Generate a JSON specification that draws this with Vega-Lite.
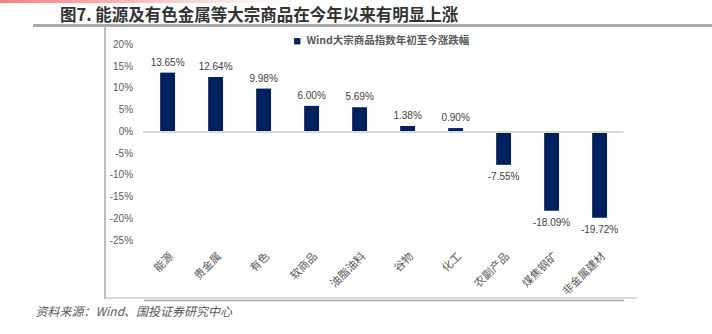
{
  "$schema": "https://vega.github.io/schema/vega-lite/v6.json",
  "width": 679,
  "height": 275,
  "autosize": {"type": "none"},
  "padding": {"left": 33, "top": 25, "right": 0, "bottom": 34},
  "background": "white",
  "title": {
    "text": "图7. 能源及有色金属等大宗商品在今年以来有明显上涨",
    "anchor": "start",
    "frame": "group",
    "dx": 27,
    "offset": 3,
    "dy": 44,
    "baseline": "bottom",
    "font": "Noto Sans CJK SC",
    "fontSize": 16.5,
    "fontWeight": "bold",
    "color": "#333333"
  },
  "datasets": {
    "bars": [
      {"cat": "能源", "v": 0.1365, "series": "Wind大宗商品指数年初至今涨跌幅"},
      {"cat": "贵金属", "v": 0.1264, "series": "Wind大宗商品指数年初至今涨跌幅"},
      {"cat": "有色", "v": 0.0998, "series": "Wind大宗商品指数年初至今涨跌幅"},
      {"cat": "软商品", "v": 0.06, "series": "Wind大宗商品指数年初至今涨跌幅"},
      {"cat": "油脂油料", "v": 0.0569, "series": "Wind大宗商品指数年初至今涨跌幅"},
      {"cat": "谷物", "v": 0.0138, "series": "Wind大宗商品指数年初至今涨跌幅"},
      {"cat": "化工", "v": 0.009, "series": "Wind大宗商品指数年初至今涨跌幅"},
      {"cat": "农副产品", "v": -0.0755, "series": "Wind大宗商品指数年初至今涨跌幅"},
      {"cat": "煤焦钢矿", "v": -0.1809, "series": "Wind大宗商品指数年初至今涨跌幅"},
      {"cat": "非金属建材", "v": -0.1972, "series": "Wind大宗商品指数年初至今涨跌幅"}
    ],
    "ticks": [
      {"t": -0.25}, {"t": -0.2}, {"t": -0.15}, {"t": -0.1}, {"t": -0.05},
      {"t": 0}, {"t": 0.05}, {"t": 0.1}, {"t": 0.15}, {"t": 0.2}
    ]
  },
  "data": {"name": "bars"},
  "layer": [
    {
      "mark": {"type": "bar", "color": "#002060"},
      "encoding": {
        "x": {
          "field": "cat", "type": "nominal", "sort": null,
          "scale": {
            "domain": ["能源", "贵金属", "有色", "软商品", "油脂油料", "谷物", "化工", "农副产品", "煤焦钢矿", "非金属建材"],
            "range": [110.6, 590.6],
            "paddingInner": 0.69, "paddingOuter": 0.345, "align": 0.5
          },
          "axis": {
            "orient": "bottom",
            "domain": true,
            "domainColor": "#a6a6a6",
            "domainWidth": 1.5,
            "ticks": false,
            "tickSize": 0,
            "labelAngle": -45,
            "labelPadding": -50,
            "labelOverlap": false,
            "labelBound": false,
            "labelFont": "Noto Sans CJK SC",
            "labelFontSize": 11,
            "labelColor": "#595959",
            "title": "资料来源：Wind、国投证券研究中心",
            "titleX": 2,
            "titleY": 11,
            "titleAlign": "left",
            "titleAngle": 0,
            "titleBaseline": "middle",
            "titleFont": "Noto Sans CJK SC",
            "titleFontSize": 12,
            "titleFontWeight": "normal",
            "titleFontStyle": "italic",
            "titleColor": "#595959"
          }
        },
        "y": {
          "field": "v", "type": "quantitative",
          "scale": {"domain": [-0.3864, 0.246], "nice": false},
          "axis": null
        },
        "color": {
          "field": "series", "type": "nominal",
          "scale": {"range": ["#002060"]},
          "legend": {
            "orient": "none",
            "legendX": 259,
            "legendY": 11,
            "title": null,
            "symbolType": "square",
            "symbolSize": 40,
            "labelFont": "Noto Sans CJK SC",
            "labelFontSize": 10.5,
            "labelFontWeight": "bold",
            "labelColor": "#595959",
            "labelLimit": 400,
            "padding": 0
          }
        }
      }
    },
    {
      "data": {"name": "ticks"},
      "mark": {"type": "text", "align": "right", "baseline": "middle", "font": "Liberation Sans", "fontSize": 10, "color": "#595959"},
      "encoding": {
        "x": {"datum": "能源", "bandPosition": -1.82},
        "y": {"field": "t", "type": "quantitative"},
        "text": {"field": "t", "type": "quantitative", "format": ".0%"}
      }
    },
    {
      "mark": {"type": "rule", "color": "#d9d9d9", "strokeWidth": 1, "clip": false},
      "encoding": {
        "x": {"datum": "能源", "bandPosition": -1.15},
        "x2": {"datum": "非金属建材", "bandPosition": 2.08},
        "y": {"datum": 0}
      }
    },
    {
      "mark": {"type": "rule", "color": "#d9d9d9", "strokeWidth": 1, "clip": false},
      "encoding": {
        "x": {"datum": "能源", "bandPosition": -3.7},
        "x2": {"datum": "非金属建材", "bandPosition": 3.02},
        "y": {"datum": -0.3817}
      }
    },
    {
      "mark": {"type": "rule", "color": "#bfbfbf", "strokeWidth": 1, "clip": false},
      "encoding": {
        "x": {"datum": "能源", "bandPosition": -3.7},
        "y": {"datum": 0.2414},
        "y2": {"datum": -0.3841}
      }
    },
    {
      "mark": {"type": "rule", "color": "#a6a6a6", "strokeWidth": 1.5, "clip": false},
      "encoding": {
        "x": {"datum": "能源", "bandPosition": -8.54},
        "x2": {"datum": "非金属建材", "bandPosition": 8.06},
        "y": {"datum": 0.2446}
      }
    },
    {
      "mark": {
        "type": "rect",
        "clip": false,
        "color": {
          "gradient": "linear", "x1": 0, "x2": 1, "y1": 0, "y2": 0,
          "stops": [{"offset": 0, "color": "#ef8579"}, {"offset": 1, "color": "#ffffff"}]
        }
      },
      "encoding": {
        "x": {"datum": "能源", "bandPosition": -10.76},
        "x2": {"datum": "能源", "bandPosition": 8.53},
        "y": {"datum": 0.3035},
        "y2": {"datum": 0.2977}
      }
    },
    {
      "transform": [{"filter": "datum.v >= 0"}],
      "mark": {"type": "text", "baseline": "bottom", "dy": -5, "font": "Liberation Sans", "fontSize": 10, "color": "#404040"},
      "encoding": {
        "x": {"field": "cat", "type": "nominal", "sort": null},
        "y": {"field": "v", "type": "quantitative"},
        "text": {"field": "v", "type": "quantitative", "format": ".2%"}
      }
    },
    {
      "transform": [{"filter": "datum.v < 0"}],
      "mark": {"type": "text", "baseline": "top", "dy": 7, "font": "Liberation Sans", "fontSize": 10, "color": "#404040"},
      "encoding": {
        "x": {"field": "cat", "type": "nominal", "sort": null},
        "y": {"field": "v", "type": "quantitative"},
        "text": {"field": "v", "type": "quantitative", "format": ".2%"}
      }
    }
  ],
  "config": {
    "view": {"stroke": null},
    "font": "Noto Sans CJK SC",
    "locale": {"number": {"decimal": ".", "thousands": ",", "grouping": [3], "currency": ["", ""], "minus": "-"}}
  }
}
